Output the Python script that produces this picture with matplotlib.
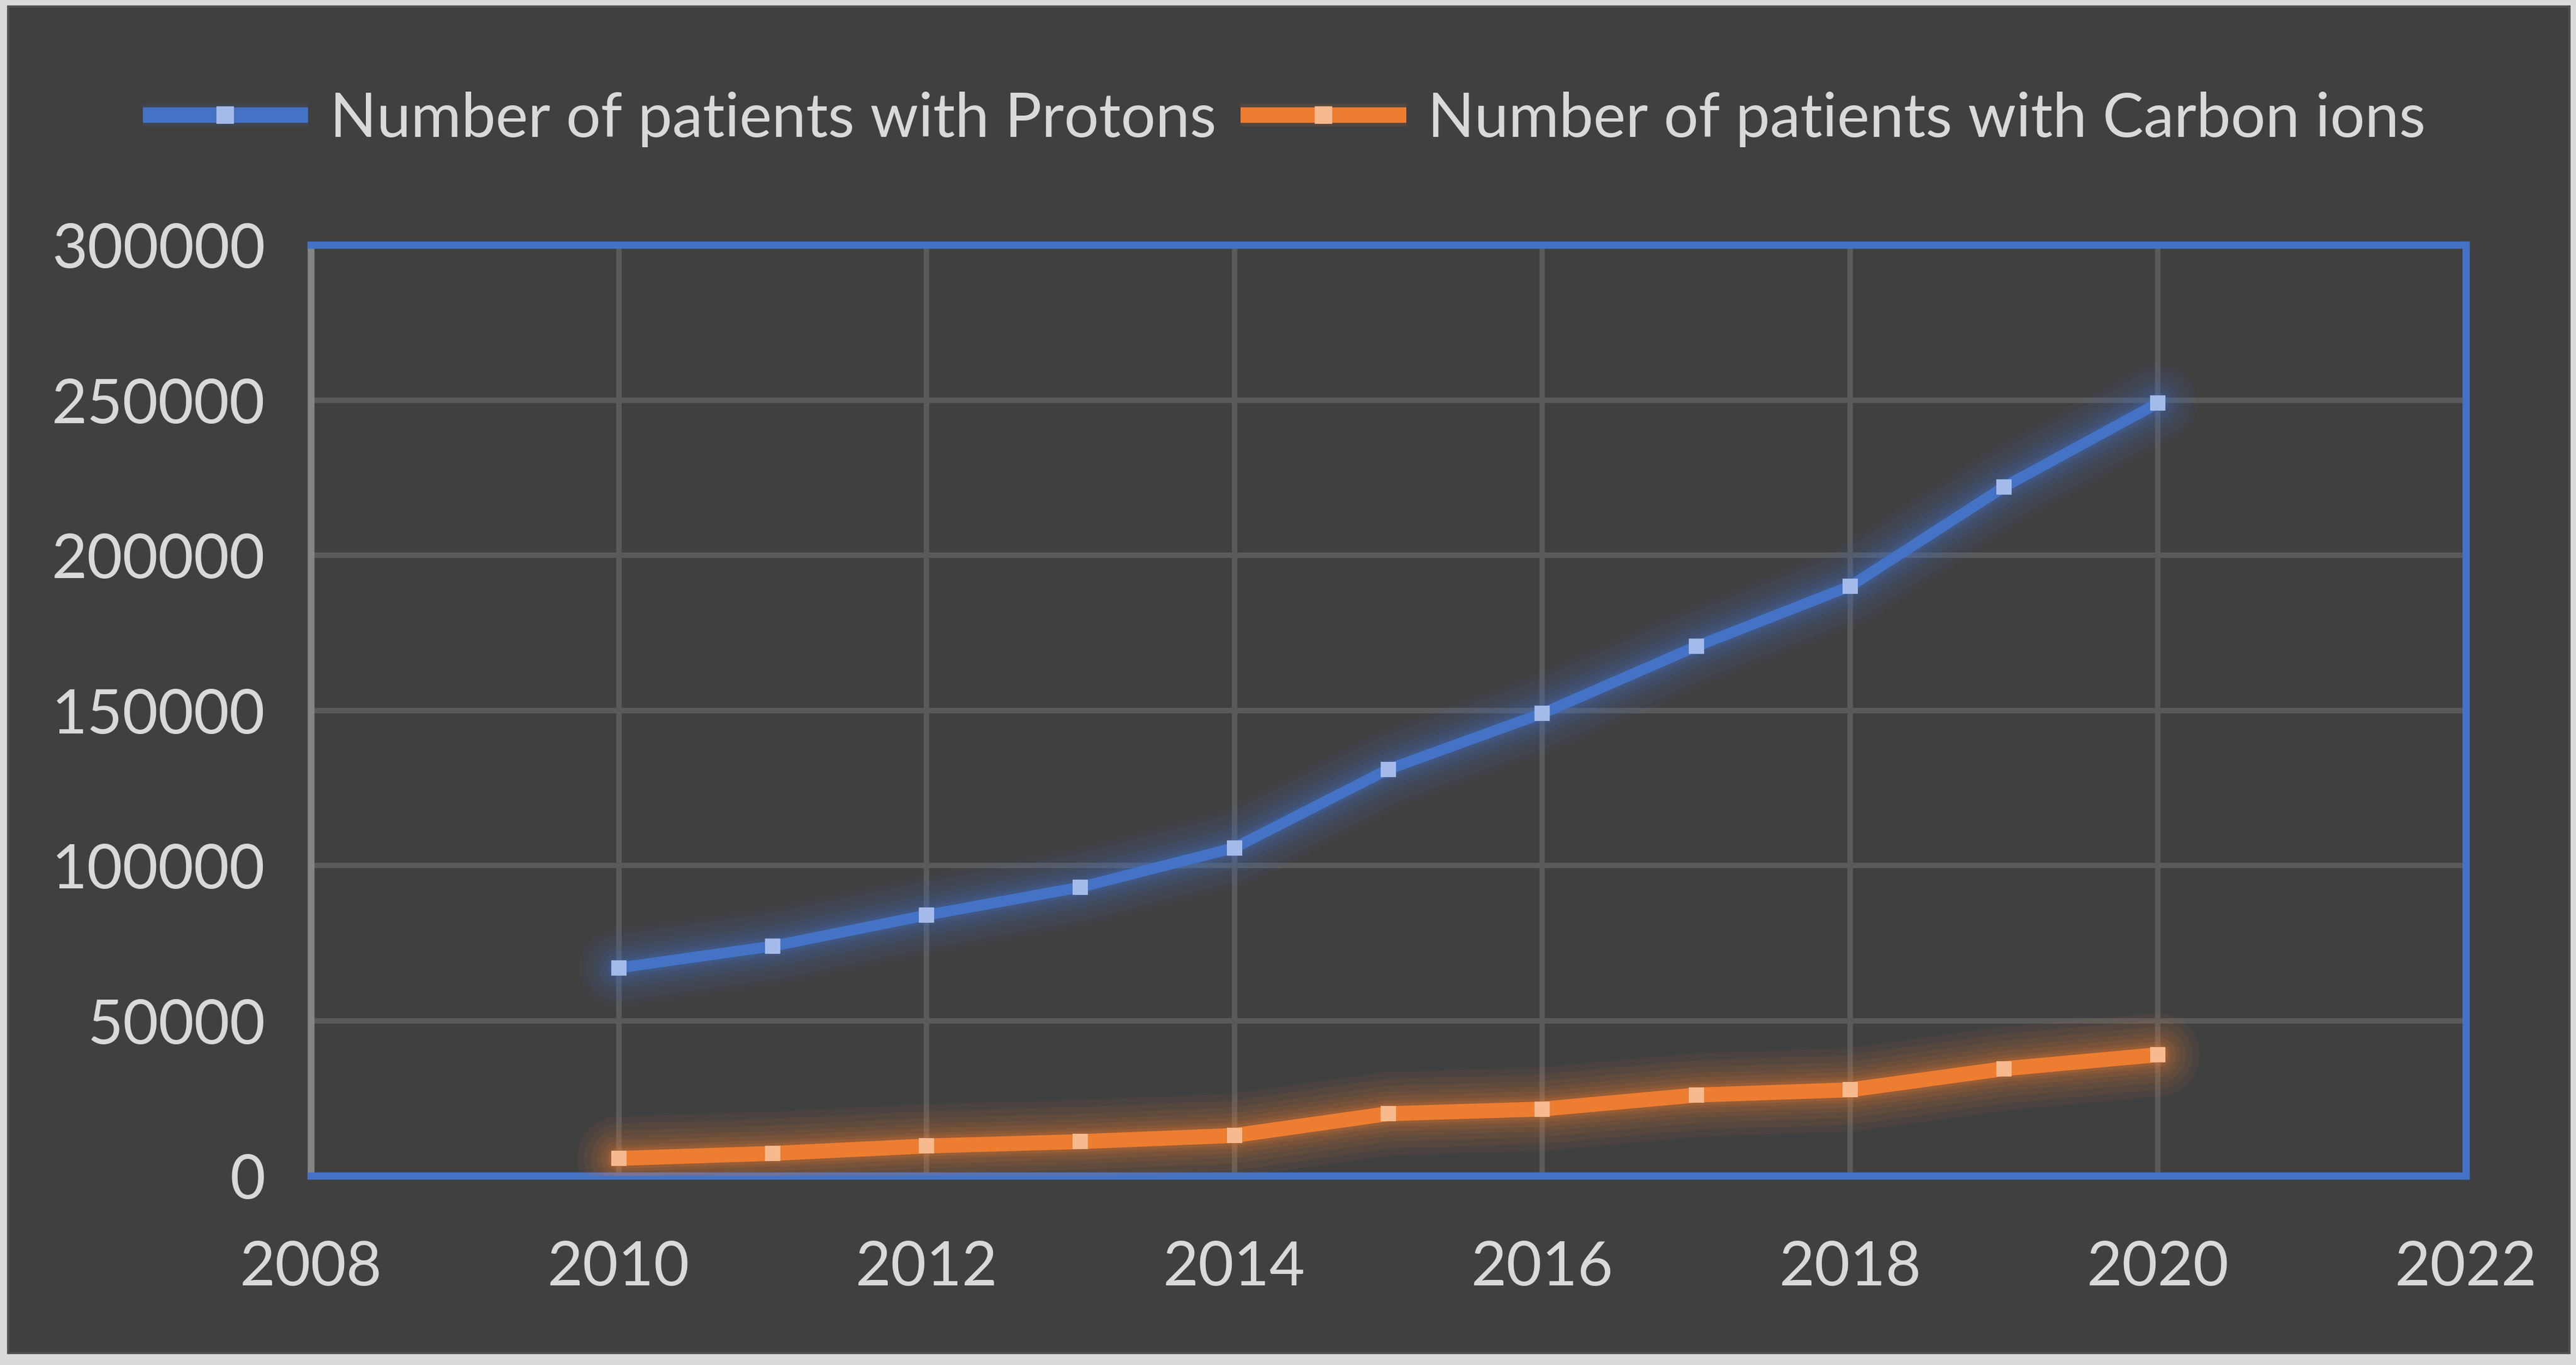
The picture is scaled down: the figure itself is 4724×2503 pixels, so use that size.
import matplotlib
matplotlib.use("Agg")
import matplotlib.pyplot as plt
import matplotlib.patheffects as pe
from matplotlib.patches import Rectangle
from matplotlib.lines import Line2D
from matplotlib.legend_handler import HandlerTuple

# ---- data ----
years = [2010, 2011, 2012, 2013, 2014, 2015, 2016, 2017, 2018, 2019, 2020]
protons = [67000, 74000, 84000, 93000, 105700, 131000, 149000, 170600, 190000, 222000, 249000]
carbon = [5600, 7200, 9600, 11000, 13000, 20000, 21500, 26000, 27700, 34500, 39000]
series_names = ["Number of patients with Protons", "Number of patients with Carbon ions"]
x_ticks = [2008, 2010, 2012, 2014, 2016, 2018, 2020, 2022]
y_ticks = [0, 50000, 100000, 150000, 200000, 250000, 300000]

W, H, DPI = 4724, 2504, 300
BG = "#404040"
TXT = "#D9D9D9"
BLUE = "#4472C4"
ORANGE = "#ED7D31"
GRID = "#5A5A5A"

plt.rcParams["font.family"] = ["Lato", "DejaVu Sans"]

fig = plt.figure(figsize=(W / DPI, H / DPI), dpi=DPI)
fig.patch.set_facecolor("#DADADA")
bg_rect = Rectangle((15 / W, 1 - 2482 / H), (4712 - 15) / W, (2482 - 13) / H,
                    transform=fig.transFigure, facecolor=BG,
                    edgecolor="#505050", linewidth=1.0, zorder=-10)
fig.patches.append(bg_rect)

ax = fig.add_axes([570 / W, 1 - 2157 / H, (4522 - 570) / W, (2157 - 450) / H])
ax.set_zorder(5)
ax.set_facecolor(BG)
ax.set_xlim(2008, 2022)
ax.set_ylim(0, 300000)
ax.set_xticks(x_ticks)
ax.set_yticks(y_ticks)
ax.set_xticklabels([str(v) for v in x_ticks])
ax.set_yticklabels([str(v) for v in y_ticks])
ax.tick_params(axis="both", length=0, labelsize=27, labelcolor=TXT)
ax.tick_params(axis="x", pad=28)
ax.tick_params(axis="y", pad=20)
ax.grid(True, color=GRID, linewidth=2.4)
ax.set_axisbelow(True)
for s in ["top", "right", "bottom"]:
    ax.spines[s].set_color(BLUE)
    ax.spines[s].set_linewidth(3.2)
ax.spines["left"].set_color("#858585")
ax.spines["left"].set_linewidth(3.0)


def glow(color, lw):
    effects = []
    for extra, a in [(30, 0.06), (24, 0.07), (18, 0.08), (13, 0.09), (9, 0.10), (5, 0.12), (2.5, 0.16)]:
        effects.append(pe.Stroke(linewidth=lw + extra, foreground=color, alpha=a))
    effects.append(pe.Normal())
    return effects


handles = []
for vals, color, lw, mcol in [(protons, BLUE, 4.8, "#A3BAEA"), (carbon, ORANGE, 6.6, "#F7BA8E")]:
    ln, = ax.plot(years, vals, color=color, linewidth=lw, solid_joinstyle="round",
                  solid_capstyle="round", zorder=3)
    ln.set_path_effects(glow(color, lw))
    ax.plot(years, vals, linestyle="none", marker="s", markersize=6.3,
            markerfacecolor=mcol, markeredgecolor=mcol, markeredgewidth=0.5, zorder=4)
    h_ln = Line2D([], [], color=color, linewidth=6.8, solid_capstyle="butt")
    h_ln.set_path_effects([pe.Stroke(linewidth=10, foreground=color, alpha=0.12), pe.Normal()])
    h_mk = Line2D([], [], linestyle="none", marker="s", markersize=6.5,
                  markerfacecolor=mcol, markeredgecolor=mcol)
    handles.append((h_ln, h_mk))

leg = fig.legend(handles, series_names, loc="center", bbox_to_anchor=(2355 / W, 1 - 219 / H),
                 ncol=2, frameon=False, fontsize=27, labelcolor=TXT,
                 handlelength=2.7, handletextpad=0.35, columnspacing=0.4,
                 handler_map={tuple: HandlerTuple(ndivide=1)})

fig.savefig("out.png", dpi=DPI, facecolor=fig.get_facecolor())
